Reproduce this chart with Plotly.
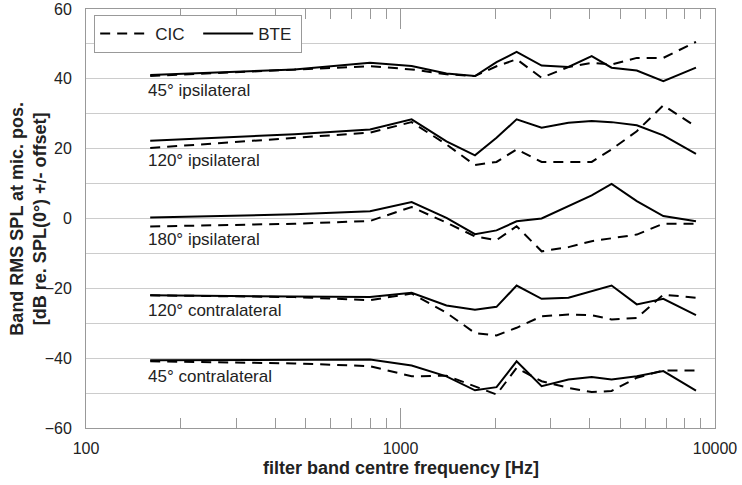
import numpy as np
import plotly.graph_objects as go

freqs = [160, 460, 800, 1085, 1400, 1725, 2020, 2340, 2810, 3420, 4055, 4690, 5640, 6850, 8700]

ipsi45_bte = [41.1, 42.7, 44.6, 43.7, 41.5, 40.8, 44.8, 47.7, 43.8, 43.4, 46.5, 43.2, 42.4, 39.3, 43.2]
ipsi45_cic = [40.8, 42.5, 43.6, 42.7, 41.3, 40.8, 43.6, 45.6, 40.3, 43.4, 44.6, 44.1, 46.0, 46.0, 50.6]
ipsi120_bte = [22.3, 24.1, 25.5, 28.4, 22.1, 18.1, 23.1, 28.4, 26.0, 27.4, 27.9, 27.6, 26.7, 23.8, 18.5]
ipsi120_cic = [20.2, 23.1, 24.6, 27.6, 21.2, 15.3, 16.2, 19.8, 16.2, 16.2, 16.2, 19.8, 25.0, 32.4, 26.3]
ipsi180_bte = [0.3, 1.2, 2.1, 4.7, 0.2, -4.5, -3.4, -0.8, 0.0, 3.5, 6.6, 9.9, 5.0, 0.7, -0.8]
ipsi180_cic = [-2.3, -1.5, -0.7, 3.3, -1.2, -5.1, -6.2, -2.2, -9.4, -8.2, -6.5, -5.7, -4.6, -1.5, -1.5]
contra120_bte = [-22.0, -22.2, -22.5, -21.3, -24.9, -26.1, -25.3, -19.2, -23.0, -22.7, -20.8, -19.2, -24.6, -23.0, -27.7]
contra120_cic = [-22.0, -22.5, -23.4, -21.5, -27.0, -32.8, -33.5, -31.3, -28.0, -27.5, -27.7, -28.9, -28.5, -21.8, -22.7]
contra45_bte = [-40.6, -40.5, -40.4, -42.1, -45.2, -49.2, -48.3, -40.9, -48.0, -46.1, -45.4, -46.1, -45.2, -43.7, -49.3]
contra45_cic = [-40.9, -41.5, -42.3, -45.2, -45.0, -48.0, -50.4, -42.8, -46.6, -48.5, -49.7, -49.4, -45.6, -43.5, -43.5]

cic_series = [ipsi45_cic, ipsi120_cic, ipsi180_cic, contra120_cic, contra45_cic]
bte_series = [ipsi45_bte, ipsi120_bte, ipsi180_bte, contra120_bte, contra45_bte]

labels = ["45° ipsilateral", "120° ipsilateral", "180° ipsilateral", "120° contralateral", "45° contralateral"]
label_y = [36.7, 16.6, -6.0, -26.4, -45.3]
x_ticks = [100, 1000, 10000]
x_ticktext = ["100", "1000", "10000"]
x_title = "filter band centre frequency [Hz]"
y_title = "Band RMS SPL at mic. pos.<br>[dB re. SPL(0°) +/- offset]"

FONT = "Liberation Sans, Arial, sans-serif"
GRID = "#cccccc"
AXC = "#999999"
TXT = "#222222"

fig = go.Figure()
for i, ys in enumerate(cic_series):
    fig.add_trace(go.Scatter(x=freqs, y=ys, mode="lines", name="CIC",
                             line=dict(color="black", width=2, dash="10px,7px"),
                             showlegend=(i == 0), legendgroup="cic"))
for i, ys in enumerate(bte_series):
    fig.add_trace(go.Scatter(x=freqs, y=ys, mode="lines", name="BTE",
                             line=dict(color="black", width=2),
                             showlegend=(i == 0), legendgroup="bte"))

for lab, yv in zip(labels, label_y):
    fig.add_annotation(x=np.log10(freqs[0]), y=yv, xref="x", yref="y", text=lab,
                       showarrow=False, xanchor="left", yanchor="middle", xshift=-4,
                       font=dict(family=FONT, size=17, color=TXT))

# axis titles
fig.add_annotation(x=0.5, y=-0.0955, xref="paper", yref="paper", text="<b>" + x_title + "</b>",
                   showarrow=False, xanchor="center", yanchor="middle",
                   font=dict(family=FONT, size=18, color=TXT))
fig.add_annotation(x=-0.092, y=0.5, xref="paper", yref="paper", text="<b>" + y_title + "</b>",
                   showarrow=False, xanchor="center", yanchor="middle", textangle=-90,
                   font=dict(family=FONT, size=18, color=TXT))

fig.update_layout(
    width=742, height=485,
    margin=dict(l=86, r=27, t=9, b=57, autoexpand=False),
    paper_bgcolor="white", plot_bgcolor="white",
    font=dict(family=FONT, size=16, color=TXT),
    legend=dict(x=0.013, y=0.986, xanchor="left", yanchor="top", orientation="h",
                bgcolor="white", bordercolor=AXC, borderwidth=1,
                font=dict(family=FONT, size=17, color=TXT),
                itemwidth=50, entrywidth=38, traceorder="normal"),
)
fig.update_xaxes(
    type="log", range=[2, 4], tickvals=x_ticks, ticktext=x_ticktext, automargin=False,
    ticks="inside", ticklen=20, tickcolor=AXC, tickwidth=1,
    minor=dict(ticks="inside", ticklen=10, tickcolor=AXC, dtick="D1", showgrid=False),
    showgrid=False, showline=True, linecolor=AXC, linewidth=1, mirror="ticks",
    tickfont=dict(family=FONT, size=16, color=TXT), ticklabelstandoff=6,
    zeroline=False,
)
fig.update_yaxes(
    range=[-60, 60], dtick=20, tick0=0, ticks="", showgrid=True, gridcolor=GRID, gridwidth=1,
    minor=dict(dtick=10, showgrid=True, gridcolor=GRID, gridwidth=1, ticks=""),
    showline=True, linecolor=AXC, linewidth=1, mirror=True, zeroline=False, automargin=False,
    tickfont=dict(family=FONT, size=16, color=TXT), ticklabelstandoff=10,
)

fig.write_html("out.html", config={"displayModeBar": False})

# remove the browser's default page margin so the figure sits at (0, 0)
with open("out.html", "r", encoding="utf-8") as fh:
    html = fh.read()
html = html.replace("<head>", "<head><style>html,body{margin:0;padding:0;overflow:hidden;}</style>", 1)
with open("out.html", "w", encoding="utf-8") as fh:
    fh.write(html)
